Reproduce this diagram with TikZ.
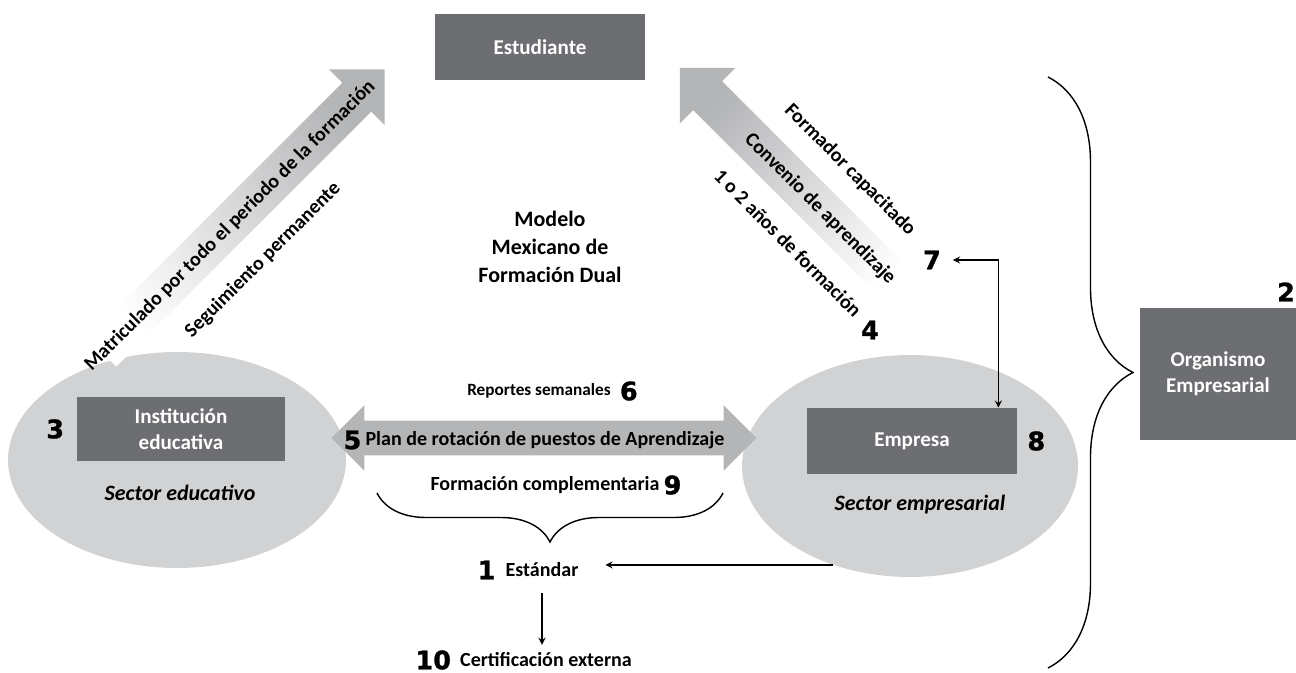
\documentclass[tikz,border=0pt]{standalone}
\usepackage{fontspec}
\setmainfont{Carlito}
\newfontfamily\numfont{DejaVu Sans Bold}[FakeBold=1.2]
\usepackage{tikz}
\usetikzlibrary{shapes.geometric, shapes.arrows, arrows, positioning, calc, decorations.pathreplacing}

\definecolor{boxgray}{HTML}{6D6E71}
\definecolor{sectorgray}{HTML}{D1D2D4}
\definecolor{arrowgray}{HTML}{B4B5B7}
\definecolor{arrowlight}{HTML}{E8E9EA}

\tikzset{
  actor/.style={
    rectangle,
    fill=boxgray,
    text=white,
    align=center,
    inner sep=0pt,
    font=\fontsize{12}{15}\selectfont\bfseries
  },
  sector/.style={
    ellipse,
    fill=sectorgray,
    inner sep=0pt
  },
  sectorname/.style={
    font=\fontsize{12.5}{15}\selectfont\bfseries\itshape
  },
  num/.style={
    inner sep=1pt,
    font=\numfont\fontsize{14.5}{15}\selectfont
  },
  tag/.style={
    inner sep=1pt,
    font=\fontsize{11.4}{13}\selectfont\bfseries
  },
  flow/.style={
    single arrow,
    inner xsep=0pt,
    inner ysep=0.4cm,
    single arrow head extend=0.38cm,
    single arrow head indent=0pt
  },
  link/.style={
    thick,
    >=stealth
  },
  curly/.style={
    thick,
    decorate,
    decoration={brace, amplitude=#1}
  }
}

\begin{document}
\begin{tikzpicture}[x=0.02cm, y=-0.02cm]
  \useasboundingbox (0,0) rectangle (1296,673);

  % Sectors
  \node (sectorEdu) [sector, minimum width=6.76cm, minimum height=4.32cm] at (177,460) {};
  \node (sectorEmp) [sector, minimum width=6.72cm, minimum height=4.44cm] at (910,466) {};

  % Wide arrows
  \node (flowEdu) [flow, minimum height=8cm, rotate=45, top color=arrowgray, bottom color=white, shading angle=-45] at (236,218) {};
  \node (flowEmp) [flow, minimum height=6.56cm, rotate=135, top color=arrowgray, bottom color=white, shading angle=45] at (803,191) {};
  \node (flowPlan) [double arrow, inner xsep=0pt, inner ysep=0.34cm, double arrow head extend=0.31cm,
    minimum height=8.5cm, left color=arrowgray, middle color=arrowlight, right color=arrowgray] at (544,438) {};

  % Actors
  \node (estudiante) [actor, minimum width=4.2cm, minimum height=1.32cm] at (540,47) {Estudiante};
  \node (institucion) [actor, minimum width=4.18cm, minimum height=1.3cm] at (181,429) {Instituci\'on\\educativa};
  \node (empresa) [actor, minimum width=4.2cm, minimum height=1.32cm] at (912,441) {Empresa};
  \node (organismo) [actor, minimum width=3.12cm, minimum height=2.64cm] at (1218,374) {Organismo\\Empresarial};

  \node (nameEdu) [sectorname] at (180,493) {Sector educativo};
  \node (nameEmp) [sectorname] at (920,505) {Sector empresarial};

  \node (n3) [num, left=0.2cm of institucion] {3};
  \node (n8) [num, right=0.16cm of empresa] {8};
  \node (n2) [num] at (1286,292) {2};

  % Center title
  \node (modelo) [align=center, font=\fontsize{12.5}{16}\selectfont\bfseries] at (550,247) {Modelo\\Mexicano de\\Formaci\'on Dual};

  % Labels on the wide arrows
  \node (matricula) [tag, rotate=45] at (230,226) {Matriculado por todo el periodo de la formaci\'on};
  \node (seguimiento) [tag, rotate=45] at (263,260) {Seguimiento permanente};
  \node (formador) [tag, rotate=-45] at (850,170) {Formador capacitado};
  \node (convenio) [tag, rotate=-45] at (820,209) {Convenio de aprendizaje};
  \node (duracion) [tag, rotate=-45] at (788,243) {1 o 2 a\~nos de formaci\'on};
  \node (n4) [num] at (870,330) {4};
  \node (n7) [num] at (932,260) {7};

  \node (plan) [tag] at (545,440) {Plan de rotaci\'on de puestos de Aprendizaje};
  \node (n5) [num, left=0pt of plan] {5};
  \node (reportes) [tag, font=\fontsize{9.8}{11}\selectfont\bfseries] at (539,391) {Reportes semanales};
  \node (n6) [num, right=0.1cm of reportes] {6};
  \node (complementaria) [tag] at (545,485) {Formaci\'on complementaria};
  \node (n9) [num, right=0pt of complementaria] {9};

  % Standard and certification
  \node (estandar) [tag] at (542,570) {Est\'andar};
  \node (n1) [num, left=0.12cm of estandar] {1};
  \node (certificacion) [tag] at (546,660) {Certificaci\'on externa};
  \node (n10) [num, left=0.1cm of certificacion] {10};

  % Connectors
  \draw[curly=0.98cm] (723,493) -- (377,493);
  \draw[curly=1.7cm] (1048,77) -- (1048,668);
  \draw[link, <->, shorten <=0.2cm] (n7.east) -| ([xshift=-0.38cm]empresa.north east);
  \draw[link, ->, shorten >=0.5cm] (sectorEmp.232) -- (sectorEmp.232 -| estandar.east);
  \draw[link, ->, shorten <=0.28cm, shorten >=0.12cm] (estandar.south) -- (estandar.south |- certificacion.north);

\end{tikzpicture}
\end{document}
